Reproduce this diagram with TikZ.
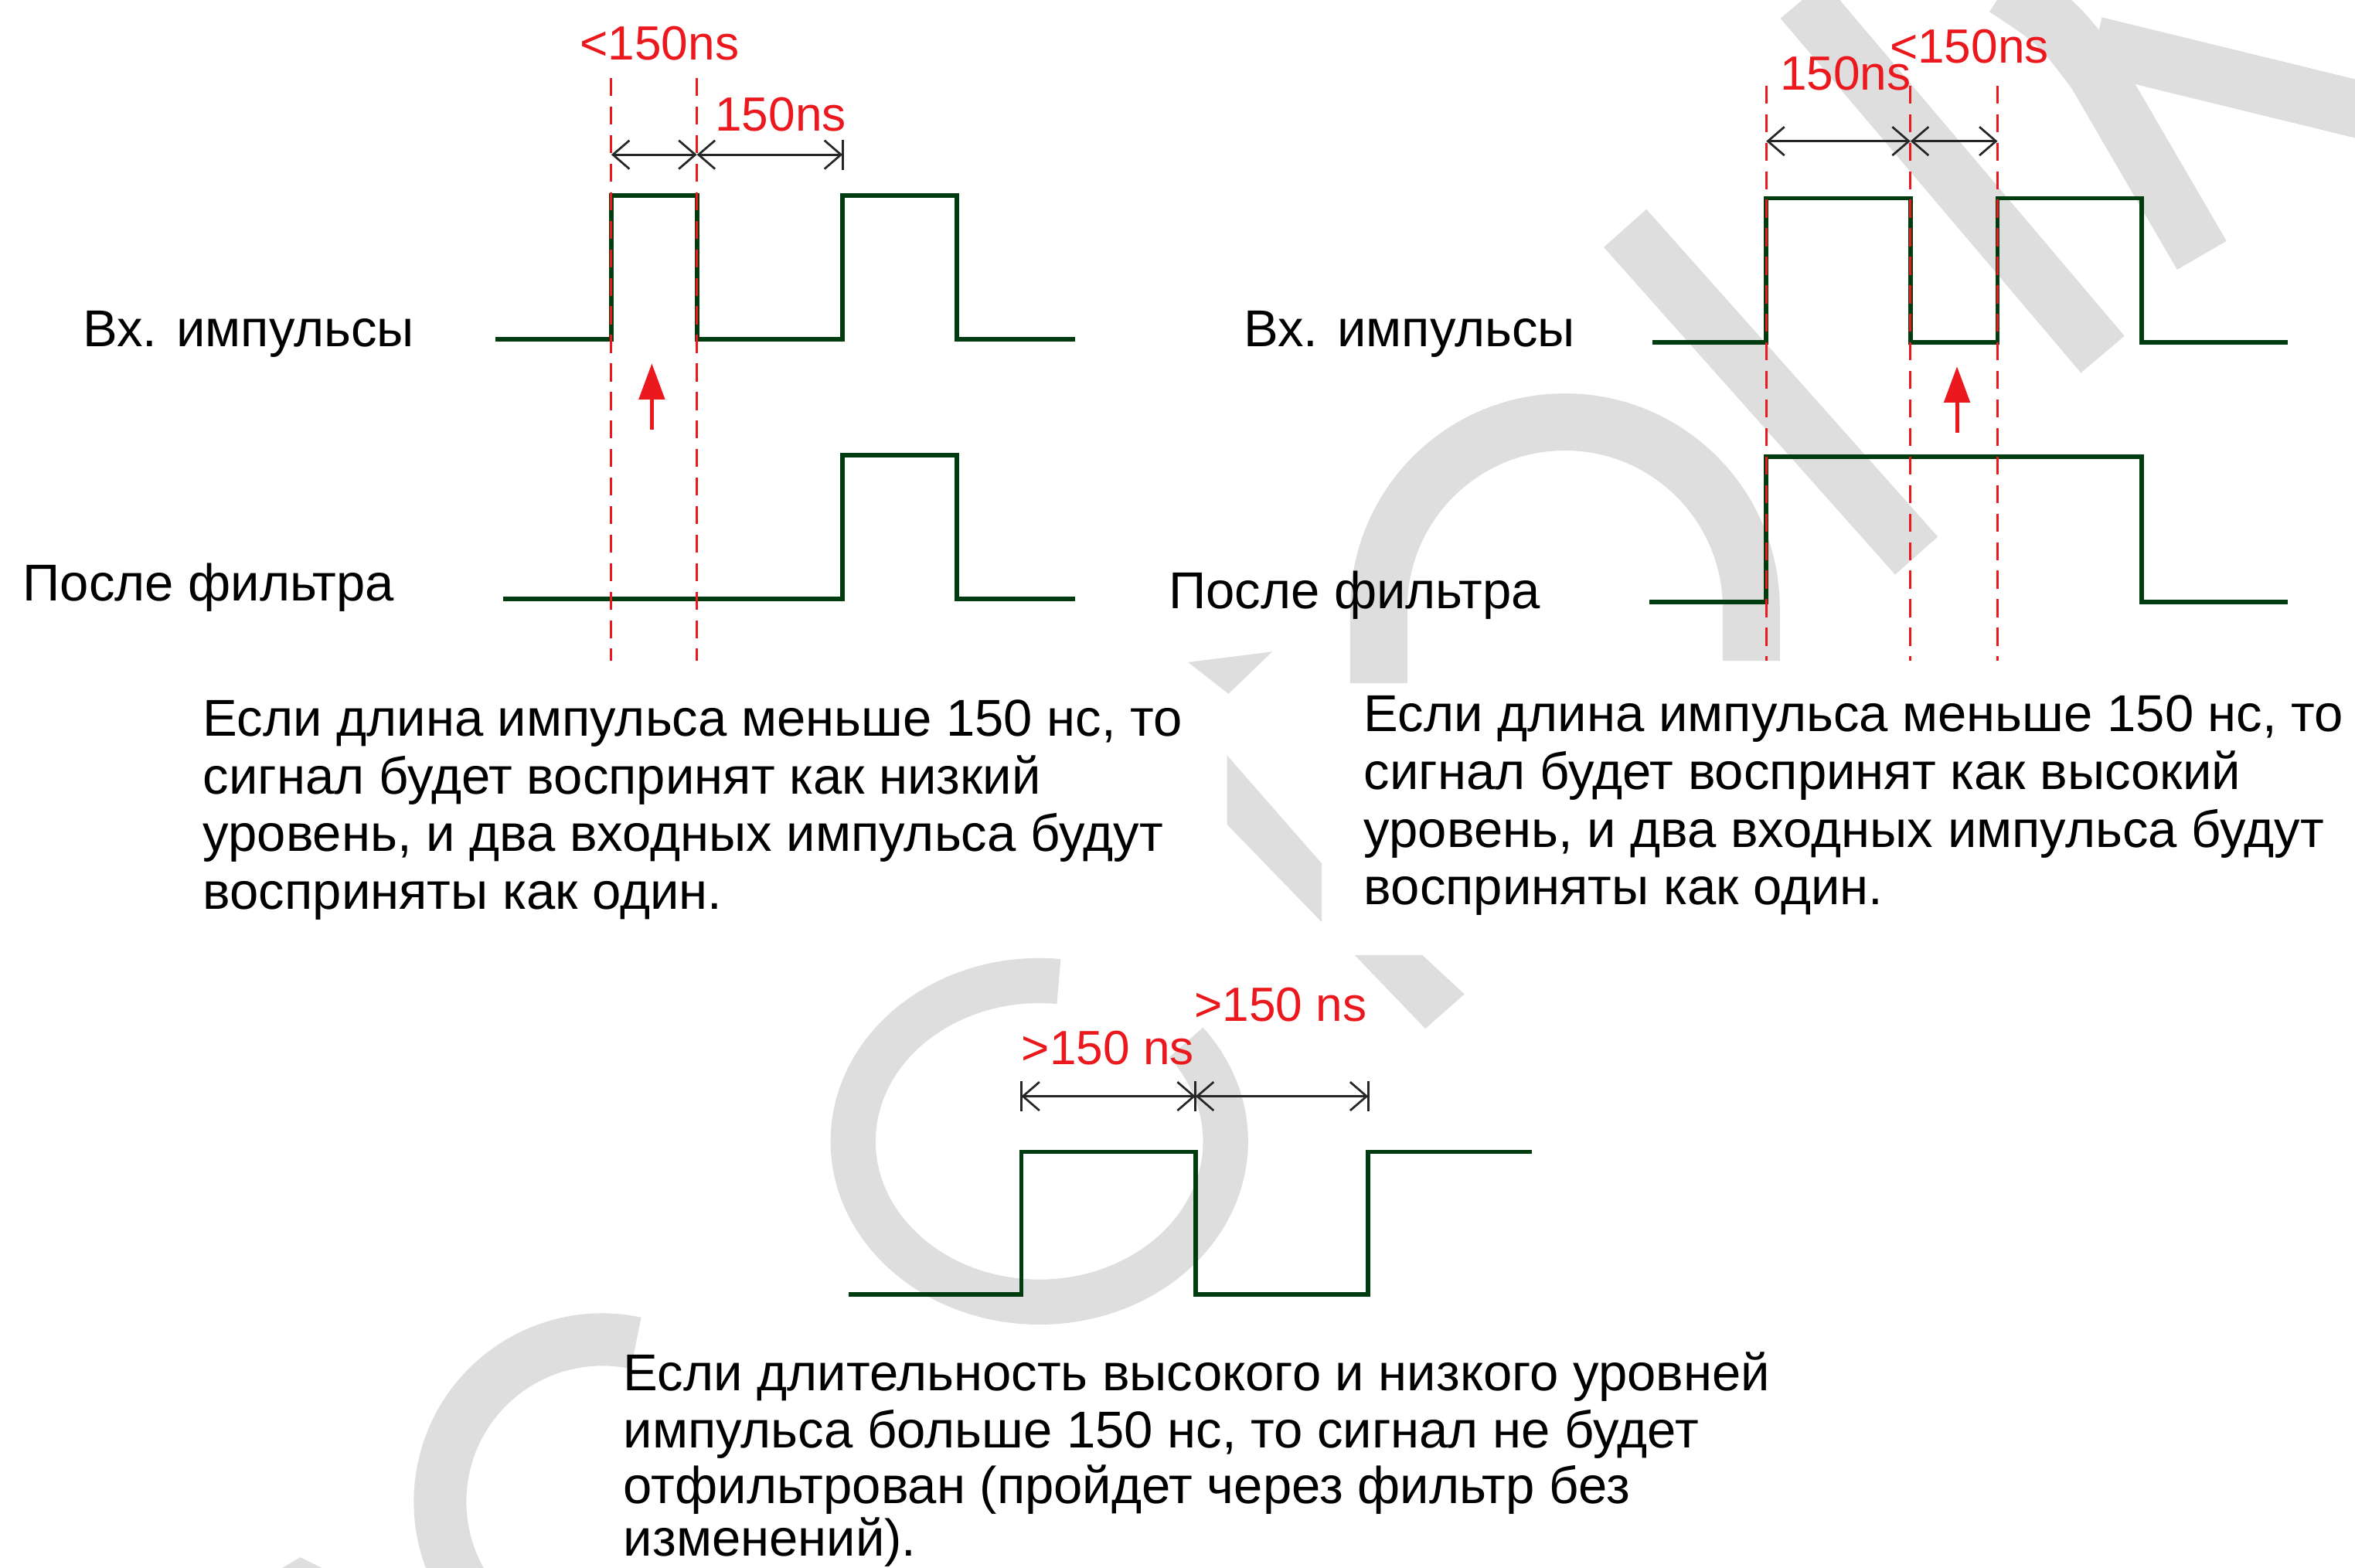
\documentclass[tikz,border=0pt]{standalone}
\usepackage{fontspec}
\setmainfont{Liberation Sans}
\usetikzlibrary{arrows.meta}
\definecolor{sig}{RGB}{0,60,15}
\definecolor{redc}{RGB}{235,25,30}
\definecolor{wm}{RGB}{222,222,222}
\begin{document}
\begin{tikzpicture}[x=1pt,y=-1pt,
  sigline/.style={draw=sig,line width=3pt,line join=miter},
  guide/.style={draw=redc,line width=1.6pt,dash pattern=on 12pt off 7pt},
  dimline/.style={draw=black!85,line width=1.4pt},
  dimtips/.style={{Straight Barb[length=11pt,width=19pt,line width=1.4pt]}-{Straight Barb[length=11pt,width=19pt,line width=1.4pt]}},
  lab/.style={font=\fontsize{34.5}{38.5}\selectfont,inner sep=0pt,anchor=base west},
  nslab/.style={font=\fontsize{32}{36}\selectfont,text=redc,inner sep=0pt,anchor=base west},
  redarrow/.style={draw=redc,line width=2.5pt,-{Triangle[length=24pt,width=17pt]}},
  wmark/.style={draw=wm,line width=38pt},
  wfill/.style={fill=wm}
]
\fill[white] (0,0) rectangle (1568,1044);
\useasboundingbox (0,0) rectangle (1568,1044);

% watermark
\begin{scope}
\clip (0,0) rectangle (1568,1044);
\draw[wmark] (918,455) -- (918,405) arc[start angle=180,end angle=0,radius=124pt] -- (1166,440);
\draw[wmark] (1082,152) -- (1276,370);
\draw[wmark] (1200,0) -- (1400,236);
\draw[wmark] (1335,-8) .. controls (1370,15) .. (1395,48) -- (1466,170);
\draw[wmark] (1395,30) -- (1575,74);
\fill[wfill] (817,503) -- (880,575) -- (880,614) -- (817,549) -- cycle;
\fill[wfill] (791,441) -- (847,434) -- (818,462) -- cycle;
\fill[wfill] (902,636) -- (947,636) -- (975,662) -- (949,685) -- cycle;
\draw[wmark,line width=30pt] ([shift={(84:124pt and 107pt)}]692,760) arc[start angle=84,end angle=398,x radius=124pt,y radius=107pt];
\draw[wmark,line width=35pt] ([shift={(78:108pt)}]401,1000) arc[start angle=78,end angle=215,radius=108pt];
\fill[wfill] (188,1044) -- (200,1037) -- (214,1044) -- cycle;
\end{scope}

% signals
\draw[sigline] (330,226) -- (407,226) -- (407,130) -- (464,130) -- (464,226) -- (561,226) -- (561,130) -- (637,130) -- (637,226) -- (716,226);
\draw[sigline] (335,399) -- (561,399) -- (561,303) -- (637,303) -- (637,399) -- (716,399);
\draw[sigline] (1100,228) -- (1176,228) -- (1176,132) -- (1272,132) -- (1272,228) -- (1330,228) -- (1330,132) -- (1426,132) -- (1426,228) -- (1523,228);
\draw[sigline] (1098,401) -- (1176,401) -- (1176,304) -- (1426,304) -- (1426,401) -- (1523,401);
\draw[sigline] (565,862) -- (680,862) -- (680,767) -- (796,767) -- (796,862) -- (911,862) -- (911,767) -- (1020,767);

% guides
\draw[guide] (407,52) -- (407,440);
\draw[guide] (464,52) -- (464,440);
\draw[guide] (1176,57) -- (1176,440);
\draw[guide] (1272,57) -- (1272,440);
\draw[guide] (1330,57) -- (1330,440);

% dimensions
\coordinate (a1) at (407,103);
\coordinate (a2) at (464,103);
\coordinate (a3) at (561,103);
\draw[dimline,dimtips] (a1) -- (a2);
\draw[dimline,dimtips] (a2) -- (a3);
\draw[dimline] ([yshift=10pt]a3) -- ([yshift=-10pt]a3);

\coordinate (b1) at (1176,94);
\coordinate (b2) at (1272,94);
\coordinate (b3) at (1330,94);
\draw[dimline,dimtips] (b1) -- (b2);
\draw[dimline,dimtips] (b2) -- (b3);

\coordinate (c1) at (680,730);
\coordinate (c2) at (796,730);
\coordinate (c3) at (911,730);
\draw[dimline,dimtips] (c1) -- (c2);
\draw[dimline,dimtips] (c2) -- (c3);
\draw[dimline] ([yshift=10pt]c1) -- ([yshift=-10pt]c1);
\draw[dimline] ([yshift=10pt]c2) -- ([yshift=-10pt]c2);
\draw[dimline] ([yshift=10pt]c3) -- ([yshift=-10pt]c3);

% red arrows
\coordinate (r1s) at (434,286);
\coordinate (r1e) at (434,242);
\coordinate (r2s) at (1303,288);
\coordinate (r2e) at (1303,244);
\draw[redarrow] (r1s) -- (r1e);
\draw[redarrow] (r2s) -- (r2e);

% red labels
\node[nslab] (n1) at (386,40) {<150ns};
\node[nslab] (n2) at (476,87) {150ns};
\node[nslab] (n3) at (1185,60) {150ns};
\node[nslab] (n4) at (1258,42) {<150ns};
\node[nslab] (n5) at (680,709) {>150 ns};
\node[nslab] (n6) at (795,680) {>150 ns};

% signal names
\node[lab] (l1) at (55,231) {Вх. импульсы};
\node[lab] (l2) at (15,400) {После фильтра};
\node[lab] (l3) at (828,231) {Вх. импульсы};
\node[lab] (l4) at (778,405) {После фильтра};

% paragraphs
\node[lab] (p1a) at (135,490) {Если длина импульса меньше 150 нс, то};
\node[lab] (p1b) at (135,528.5) {сигнал будет воспринят как низкий};
\node[lab] (p1c) at (135,567) {уровень, и два входных импульса будут};
\node[lab] (p1d) at (135,605.5) {восприняты как один.};

\node[lab] (p2a) at (908,487) {Если длина импульса меньше 150 нс, то};
\node[lab] (p2b) at (908,525.5) {сигнал будет воспринят как высокий};
\node[lab] (p2c) at (908,564) {уровень, и два входных импульса будут};
\node[lab] (p2d) at (908,602.5) {восприняты как один.};

\node[lab] (p3a) at (415,926) {Если длительность высокого и низкого уровней};
\node[lab] (p3b) at (415,964) {импульса больше 150 нс, то сигнал не будет};
\node[lab] (p3c) at (415,1001) {отфильтрован (пройдет через фильтр без};
\node[lab] (p3d) at (415,1036) {изменений).};
\end{tikzpicture}
\end{document}
